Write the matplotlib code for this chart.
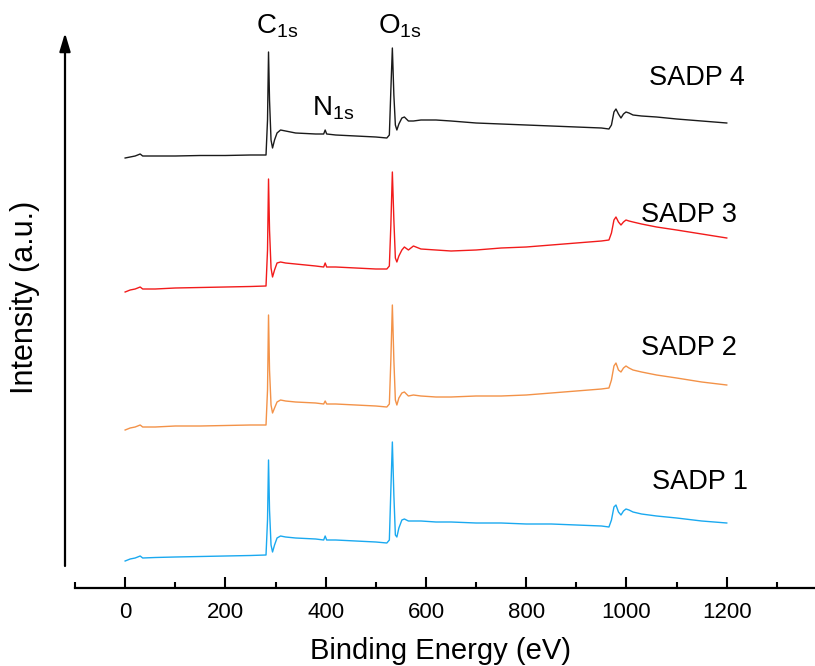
"""XPS survey spectra of the four SADP samples, stacked with offsets."""

import matplotlib

matplotlib.use("Agg")
import matplotlib.pyplot as plt

# binding energy grid (eV) shared by all four spectra
energy = [0, 10, 20, 30, 35, 60, 100, 150, 200, 250,
          281, 284, 286, 288, 291, 294, 298, 303, 310, 320,
          340, 380, 396, 399, 402, 420, 460, 500, 522, 527,
          530, 533, 536, 539, 542, 546, 552, 557, 565, 575,
          590, 620, 650, 700, 750, 800, 850, 900, 950, 965,
          970, 975, 979, 984, 989, 994, 999, 1005, 1013, 1030,
          1060, 1100, 1150, 1200]

# stacked intensities (a.u., offset included)
sadp4 = [430, 431, 432, 434, 432, 432, 432, 432.5, 432.5, 433,
         433, 468, 536, 488, 448, 440, 448, 455, 458, 457,
         455, 454, 454, 458, 454, 453, 452, 451, 450, 453,
         498, 540, 493, 463, 458, 464, 470, 471, 467, 467,
         468, 468, 467, 465, 464, 463, 462, 461, 460, 459,
         463, 476, 479, 474, 470, 474, 476, 475, 473, 472,
         471, 469, 467, 465]
sadp3 = [296, 298, 299, 301, 299, 299, 300, 300.5, 301, 301.5,
         302, 338, 409, 358, 320, 311, 318, 325, 326, 325,
         324, 322, 321, 325, 321, 321, 320, 319, 319, 322,
         363, 416, 368, 330, 326, 332, 338, 341, 338, 342,
         339, 338, 337, 338, 340, 341, 343, 345, 347, 348,
         355, 368, 371, 366, 363, 366, 368, 367, 366, 364,
         361, 358, 354, 350]
sadp2 = [158, 160, 161, 163, 161, 161, 162, 162, 162.5, 163,
         163, 198, 273, 218, 183, 175, 180, 186, 188, 187,
         186, 185, 184, 187, 184, 184, 183, 182, 181, 184,
         228, 283, 228, 188, 183, 190, 195, 196, 192, 193,
         192, 191, 191, 192, 192, 193, 195, 197, 199, 200,
         208, 222, 225, 218, 216, 220, 222, 220, 218, 216,
         213, 210, 206, 203]
sadp1 = [27, 29, 30, 32, 30, 30.5, 31, 31.5, 32, 32.5,
         33, 68, 128, 78, 43, 36, 43, 50, 52, 51,
         50, 49, 48, 52, 48, 48, 47, 46, 45, 48,
         98, 146, 93, 53, 51, 60, 68, 69, 67, 67,
         67, 66, 66, 65, 65, 64, 64, 63, 62, 61,
         68, 81, 83, 76, 73, 77, 79, 78, 76, 74,
         72, 70, 67, 65]

series = [sadp1, sadp2, sadp3, sadp4]
names = ["SADP 1", "SADP 2", "SADP 3", "SADP 4"]
colors = ["#1aa9f0", "#f39248", "#f21b1b", "#1a1a1a"]
# label anchors (energy, intensity)
label_pos = [(1050, 106), (1028, 240), (1028, 373), (1044, 510)]

peaks = [r"C$_{1s}$", r"N$_{1s}$", r"O$_{1s}$"]
peak_pos = [(304, 554), (415, 473), (549, 554)]

plt.rcParams.update({
    "font.family": "Liberation Sans",
    "mathtext.default": "regular",
})

fig = plt.figure(figsize=(8.15, 6.66), dpi=100)
ax = fig.add_axes([75 / 815, 1 - 588 / 666, 740 / 815, 560 / 666])

for vals, col in zip(series, colors):
    ax.plot(energy, vals, color=col, lw=1.0)

for name, (x, y) in zip(names, label_pos):
    ax.text(x, y, name, fontsize=19.5, ha="left", va="center")
for lab, (x, y) in zip(peaks, peak_pos):
    ax.text(x, y, lab, fontsize=20, ha="center", va="baseline")

ax.set_xlim(-98, 1376)
ax.set_ylim(0, 560)
ax.set_xticks(range(0, 1201, 200))
ax.set_xticks(range(-100, 1400, 100), minor=True)
ax.set_yticks([])
for side in ("top", "right", "left"):
    ax.spines[side].set_visible(False)
ax.spines["bottom"].set_linewidth(1.6)
ax.tick_params(axis="x", which="major", direction="in", length=8, width=1.5,
               labelsize=16, pad=10)
ax.tick_params(axis="x", which="minor", direction="in", length=4, width=1.5)

# y axis drawn as an arrow, detached from the x axis
ax.annotate("", xy=(65 / 815, 1 - 33 / 666), xytext=(65 / 815, 1 - 566 / 666),
            xycoords="figure fraction", textcoords="figure fraction",
            arrowprops=dict(arrowstyle="-|>,head_length=1.1,head_width=0.33",
                            mutation_scale=10, lw=1.6, color="black",
                            shrinkA=0, shrinkB=0))

fig.text(440 / 815, 1 - 651 / 666, "Binding Energy (eV)", fontsize=21,
         ha="center", va="center")
fig.text(25 / 815, 1 - 297 / 666, "Intensity (a.u.)", fontsize=22,
         ha="center", va="center", rotation=90)

fig.savefig("out.png", dpi=100)
